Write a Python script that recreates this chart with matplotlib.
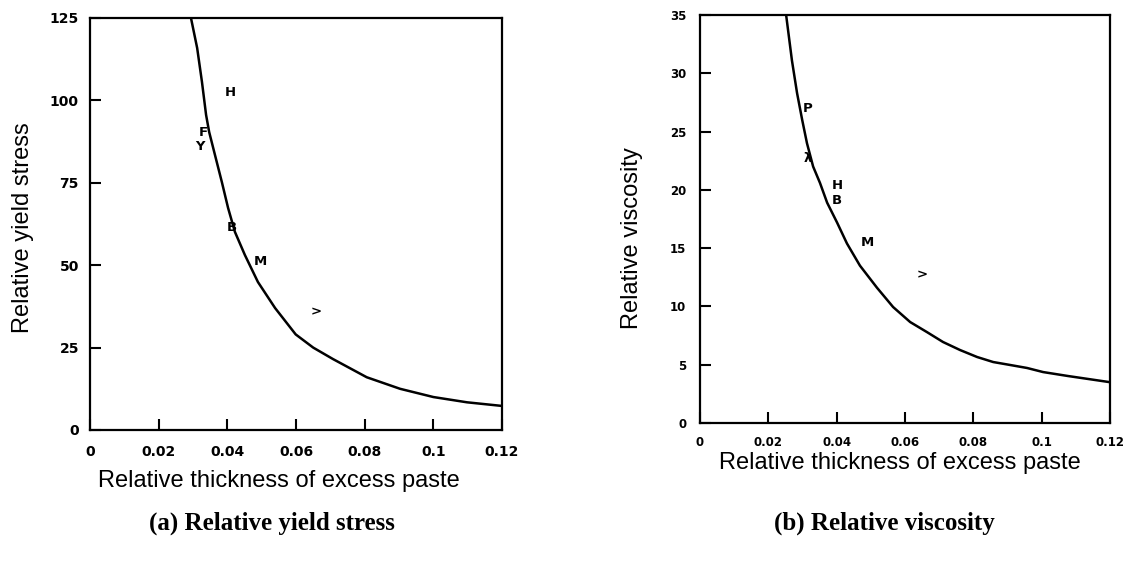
import matplotlib
matplotlib.use('Agg')
import matplotlib.pyplot as plt

# (a) relative yield stress - fitted curve
ys_x = [0.0294, 0.0312, 0.0326, 0.0338, 0.0347, 0.0364, 0.0384, 0.0402, 0.0422,
        0.0451, 0.0489, 0.0539, 0.0599, 0.065, 0.0708, 0.0806, 0.0903, 0.100,
        0.1098, 0.120]
ys_y = [125, 115.9, 105.6, 95.6, 90.4, 83.4, 75.2, 67.4, 60.1,
        53.1, 44.9, 37.0, 29.0, 25.0, 21.5, 16.0, 12.5, 10.0,
        8.4, 7.3]
ys_lab = ['H', 'F', 'Y', 'B', 'M', '>']
ys_px = [0.0408, 0.0329, 0.0320, 0.0414, 0.0495, 0.0658]
ys_py = [102.5, 90.4, 85.9, 61.3, 51.0, 35.9]

# (b) relative viscosity
vi_x = [0.0252, 0.0269, 0.0284, 0.0299, 0.0313, 0.0331, 0.0351, 0.0372, 0.0401,
        0.043, 0.0468, 0.0518, 0.0565, 0.0615, 0.0664, 0.0711, 0.0761, 0.0811,
        0.0858, 0.0907, 0.0957, 0.1004, 0.1077, 0.120]
vi_y = [35, 31.1, 28.3, 26.0, 24.0, 22.0, 20.6, 18.9, 17.2,
        15.4, 13.5, 11.6, 9.95, 8.66, 7.8, 6.95, 6.26, 5.66,
        5.23, 4.98, 4.72, 4.37, 4.03, 3.5]
vi_lab = ['P', 'λ', 'H', 'B', 'M', '>']
vi_px = [0.0316, 0.0316, 0.0401, 0.0401, 0.0489, 0.065]
vi_py = [27.0, 22.7, 20.4, 19.1, 15.5, 12.7]

xticks = [0, 0.02, 0.04, 0.06, 0.08, 0.1, 0.12]
xticklabels = ['0', '0.02', '0.04', '0.06', '0.08', '0.1', '0.12']


def panel(ax, x, y, lab, px, py, ymax, ystep, ylabel, tsize, xpad, ypad):
    ax.plot(x, y, 'k-', linewidth=1.8)
    for t, a, b in zip(lab, px, py):
        ax.text(a, b, t, fontsize=9.5, fontweight='bold', ha='center', va='center',
                family=['DejaVu Sans'])
    ax.set_xlim(0, 0.12)
    ax.set_ylim(0, ymax)
    ax.set_xticks(xticks)
    ax.set_xticklabels(xticklabels)
    ax.set_yticks(range(0, ymax + 1, ystep))
    ax.tick_params(direction='in', length=8, width=1.5, labelsize=tsize)
    ax.tick_params(axis='x', pad=xpad)
    ax.tick_params(axis='y', pad=ypad)
    for lbl in ax.get_xticklabels() + ax.get_yticklabels():
        lbl.set_fontweight('bold')
    for s in ax.spines.values():
        s.set_linewidth(1.6)
    ax.set_xlabel('Relative thickness of excess paste', fontsize=17,
                  family='Liberation Sans')
    ax.set_ylabel(ylabel, fontsize=17, family='Liberation Sans')


fig = plt.figure(figsize=(11.34, 5.64), dpi=100)
ax1 = fig.add_axes([0.0794, 0.2376, 0.3633, 0.7305])
ax2 = fig.add_axes([0.6173, 0.25, 0.3616, 0.7234])

panel(ax1, ys_x, ys_y, ys_lab, ys_px, ys_py, 125, 25, 'Relative yield stress',
      10, 11, 8)
panel(ax2, vi_x, vi_y, vi_lab, vi_px, vi_py, 35, 5, 'Relative viscosity',
      8.5, 9, 10)

ax1.xaxis.set_label_coords(0.459, -0.097)
ax1.yaxis.set_label_coords(-0.136, 0.49)
ax2.xaxis.set_label_coords(0.488, -0.071)
ax2.yaxis.set_label_coords(-0.139, 0.453)

fig.text(0.24, 0.072, '(a) Relative yield stress', fontsize=18, fontweight='bold',
         family='Liberation Serif', ha='center', va='center')
fig.text(0.78, 0.072, '(b) Relative viscosity', fontsize=18, fontweight='bold',
         family='Liberation Serif', ha='center', va='center')

fig.savefig('out.png', dpi=100)
